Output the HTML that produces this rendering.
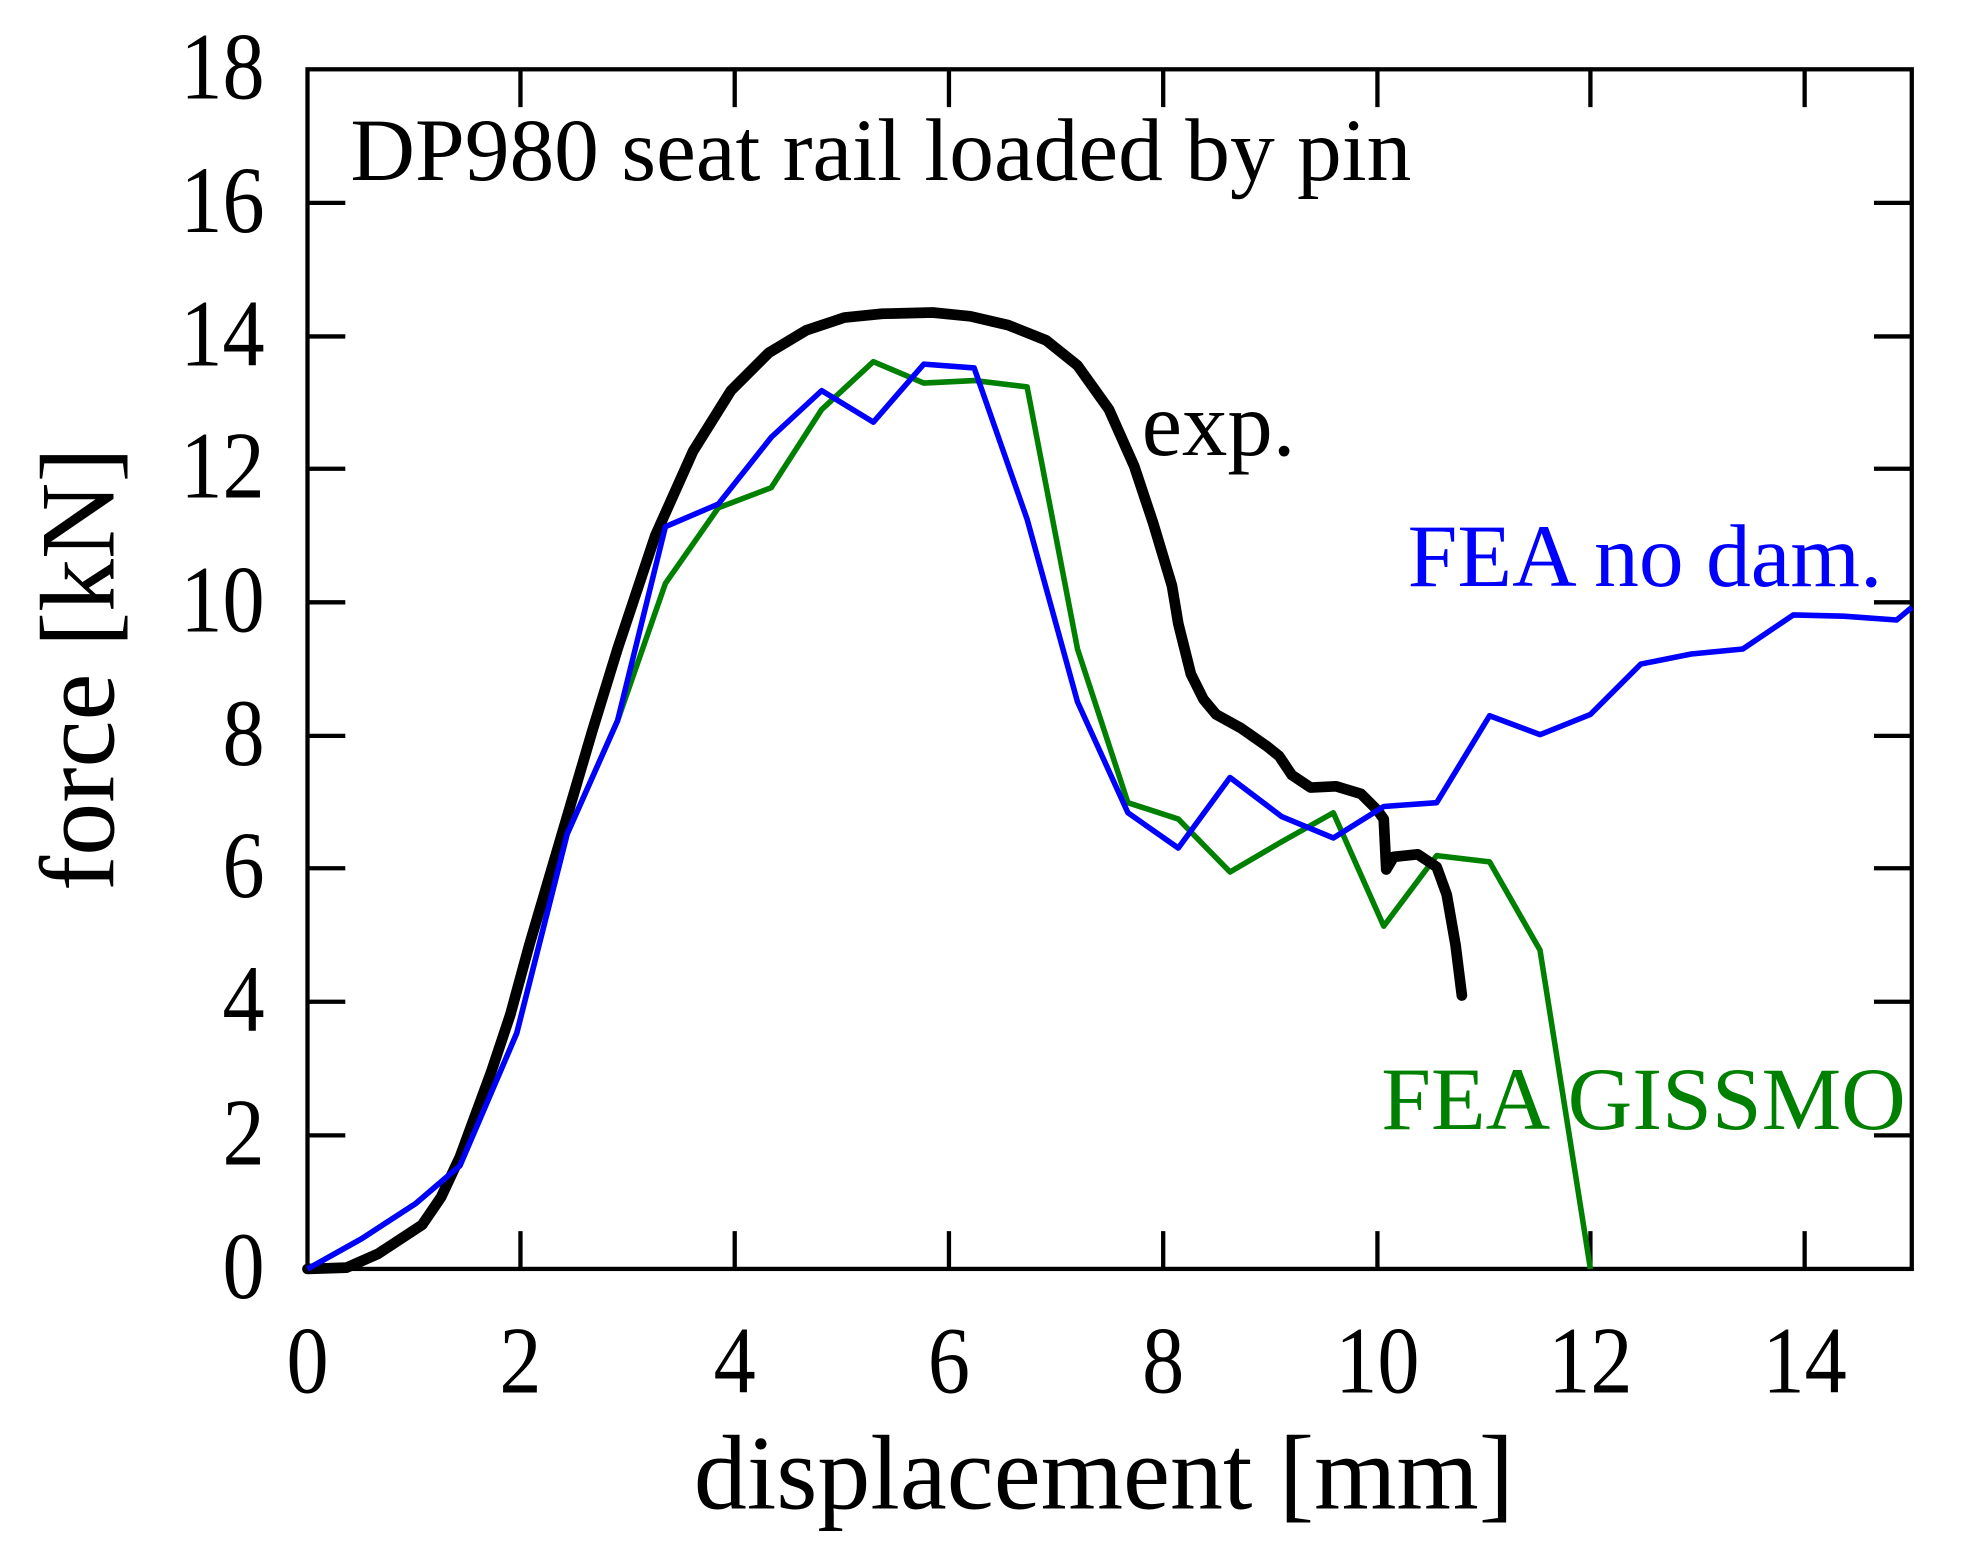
<!DOCTYPE html>
<html><head><meta charset="utf-8"><style>
html,body{margin:0;padding:0;background:#fff;}
svg{display:block;}
text{font-family:"Liberation Serif",serif;}
</style></head><body>
<svg width="1971" height="1560" viewBox="0 0 1564 1238" preserveAspectRatio="none" xmlns="http://www.w3.org/2000/svg">
<rect x="0" y="0" width="1564" height="1238" fill="#fff"/>
<g stroke="#000" stroke-width="3.4" fill="none">
<rect x="244" y="55" width="1273" height="952"/>
<path d="M244,901h30M244,795h30M244,689h30M244,584h30M244,478h30M244,372h30M244,267h30M244,161h30
M1517,901h-30M1517,795h-30M1517,689h-30M1517,584h-30M1517,478h-30M1517,372h-30M1517,267h-30M1517,161h-30
M413,1007v-30M583,1007v-30M753,1007v-30M923,1007v-30M1093,1007v-30M1262,1007v-30M1432,1007v-30
M413,55v30M583,55v30M753,55v30M923,55v30M1093,55v30M1262,55v30M1432,55v30"/>
</g>
<g font-size="76" text-anchor="end" fill="#000" transform="translate(210,0) scale(0.88,1) translate(-210,0)">
<text x="210" y="1030">0</text><text x="210" y="924">2</text><text x="210" y="818">4</text><text x="210" y="712">6</text>
<text x="210" y="607">8</text><text x="210" y="501">10</text><text x="210" y="395">12</text><text x="210" y="290">14</text>
<text x="210" y="184">16</text><text x="210" y="78">18</text>
</g>
<g font-size="76" text-anchor="middle" fill="#000" transform="scale(0.88,1)">
<text x="277.3" y="1105">0</text><text x="469.3" y="1105">2</text><text x="662.5" y="1105">4</text><text x="855.7" y="1105">6</text>
<text x="1048.9" y="1105">8</text><text x="1242" y="1105">10</text><text x="1434.1" y="1105">12</text><text x="1627.3" y="1105">14</text>
</g>
<text x="876" y="1197" font-size="84" text-anchor="middle">displacement [mm]</text>
<text transform="translate(90,531) rotate(-90)" font-size="84" text-anchor="middle">force [kN]</text>
<text x="278" y="143" font-size="71">DP980 seat rail loaded by pin</text>
<text x="906" y="361" font-size="72">exp.</text>
<text x="1117" y="465" font-size="71" fill="#0000ff">FEA no dam.</text>
<text x="1096" y="896" font-size="71" fill="#008000">FEA GISSMO</text>
<polyline fill="none" stroke="#008000" stroke-width="4.4" stroke-linejoin="round" points="244,1007 287,983 330,955 365,925 410,820 450,662 490,572 528,463 570,403 612,387 652,325 693,287 733,304 773,302 815,307 855,515 895,637 935,650 976,692 1017,668 1058,645 1098,735 1140,679 1182,684 1222,754 1262,1007"/>
<polyline fill="none" stroke="#000" stroke-width="8.5" stroke-linejoin="round" stroke-linecap="round" points="244,1007 275,1006 300,995 335,972 350,950 365,918 390,850 405,805 420,750 445,665 470,580 490,515 520,425 550,358 580,310 610,280 640,262 670,252 700,249 740,248 770,251 800,258 830,270 855,290 880,325 900,370 915,415 930,465 935,495 945,535 955,555 965,567 985,578 1005,592 1015,600 1025,615 1040,625 1060,624 1080,630 1093,643 1098,650 1100,690 1106,680 1125,678 1140,688 1148,710 1155,750 1160,790"/>
<polyline fill="none" stroke="#0000ff" stroke-width="4.4" stroke-linejoin="round" points="244,1007 287,983 330,955 365,925 410,820 450,662 490,572 528,418 570,400 612,347 652,310 693,335 733,289 773,292 815,412 855,557 895,645 935,673 976,617 1017,648 1058,665 1098,640 1140,637 1182,568 1222,583 1262,567 1302,527 1342,519 1383,515 1423,488 1463,489 1505,492 1517,482"/>
</svg>
</body></html>
